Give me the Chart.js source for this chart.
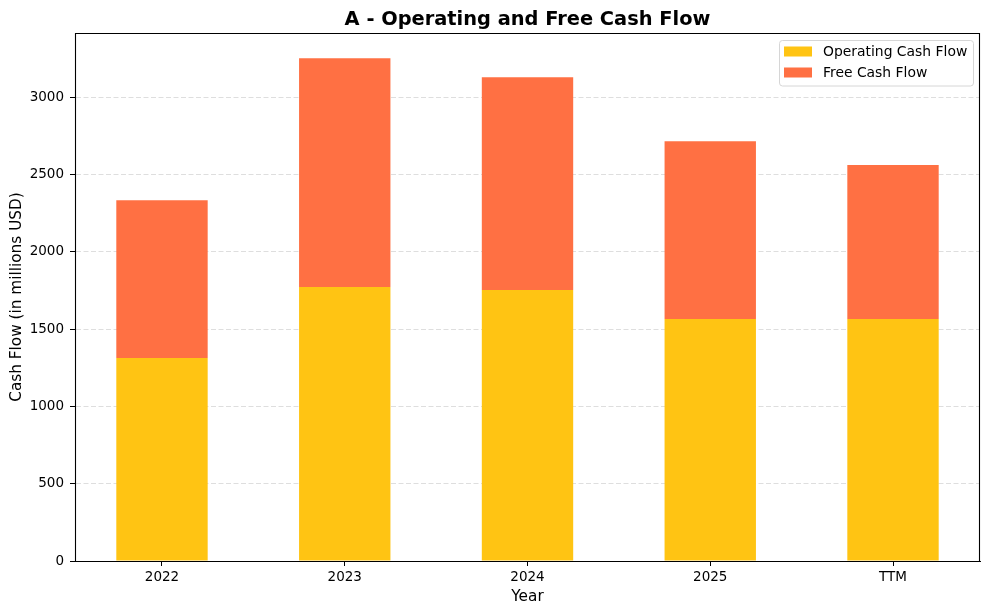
<!DOCTYPE html>
<html>
<head>
<meta charset="utf-8">
<script src="https://cdn.jsdelivr.net/npm/chart.js@4.4.1/dist/chart.umd.min.js"></script>
<style>
  html, body { margin: 0; padding: 0; background: #fff; }
  #wrap { width: 989px; height: 615px; }
</style>
</head>
<body>
<div id="wrap"><canvas id="chart_canvas" width="989" height="615"></canvas></div>
<script>
// ============================================================
// Data
// ============================================================
var categories = ["2022", "2023", "2024", "2025", "TTM"];
var operatingCashFlow = [1314, 1773, 1753, 1566, 1566];
var freeCashFlow = [1021, 1481, 1378, 1151, 996];
var yTicks = [0, 500, 1000, 1500, 2000, 2500, 3000];

var FONT = "'DejaVu Sans', sans-serif";

// ============================================================
// Frame round the plot, title over the plot, legend in the corner
// ============================================================
var framePlugin = {
	id: "frame",
	afterDraw: function (chart) {
		var ctx = chart.ctx, a = chart.chartArea;
		var l = Math.round(a.left) + 0.5, r = Math.round(a.right) - 0.5;
		var t = Math.round(a.top) + 0.5, b = Math.round(a.bottom) + 0.5;
		ctx.save();
		ctx.strokeStyle = "#000";
		ctx.lineWidth = 1.1;
		ctx.beginPath();
		ctx.moveTo(l, t); ctx.lineTo(r, t); ctx.lineTo(r, b); ctx.lineTo(l, b); ctx.closePath();
		ctx.stroke();
		// title
		ctx.fillStyle = "#000";
		ctx.font = "bold 19.4px " + FONT;
		ctx.textAlign = "center";
		ctx.textBaseline = "alphabetic";
		ctx.fillText("A - Operating and Free Cash Flow", (a.left + a.right) / 2, 24.7);
		ctx.restore();
	}
};

var legendPlugin = {
	id: "cornerLegend",
	afterDraw: function (chart) {
		var ctx = chart.ctx, a = chart.chartArea;
		var sets = chart.data.datasets;
		ctx.save();
		ctx.font = "13.9px " + FONT;
		var textW = 0;
		sets.forEach(function (d) { textW = Math.max(textW, ctx.measureText(d.label).width); });
		var boxW = 4.5 + 28 + 11 + textW + 6;
		var boxH = 45.5;
		var x = a.right - 7 - boxW, y = a.top + 7.5;
		ctx.beginPath();
		ctx.roundRect(Math.round(x) + 0.5, y, Math.round(boxW), boxH, 3);
		ctx.fillStyle = "rgba(255,255,255,0.8)";
		ctx.fill();
		ctx.strokeStyle = "#d6d6d6";
		ctx.lineWidth = 1;
		ctx.stroke();
		sets.forEach(function (d, i) {
			var rowY = y + 6 + i * 21;
			ctx.fillStyle = d.backgroundColor;
			ctx.fillRect(Math.round(x) + 5, rowY, 28, 10);
			ctx.fillStyle = "#000";
			ctx.textAlign = "left";
			ctx.textBaseline = "middle";
			ctx.fillText(d.label, Math.round(x) + 44, rowY + 5.5);
		});
		ctx.restore();
	}
};

var chartData = {
	datasets: [{
		label: "Operating Cash Flow",
		backgroundColor: "#FFC413",
		data: categories.map(function (c, i) { return { x: i, y: operatingCashFlow[i] }; })
	}, {
		label: "Free Cash Flow",
		backgroundColor: "#FF7043",
		data: categories.map(function (c, i) { return { x: i, y: freeCashFlow[i] }; })
	}]
};

new Chart(document.getElementById("chart_canvas"), {
	type: "bar",
	data: chartData,
	plugins: [framePlugin, legendPlugin],
	options: {
		responsive: false,
		animation: false,
		devicePixelRatio: 1,
		layout: { padding: { left: 0, right: 9, top: 33, bottom: 0 } },
		datasets: { bar: { barPercentage: 0.5, categoryPercentage: 1, borderWidth: 0 } },
		plugins: {
			legend: { display: false },
			title: { display: false },
			tooltip: { enabled: false }
		},
		scales: {
			x: {
				type: "linear",
				stacked: true,
				offset: false,
				min: -0.476,
				max: 4.476,
				afterBuildTicks: function (axis) {
					axis.ticks = categories.map(function (c, i) { return { value: i }; });
				},
				afterFit: function (axis) { axis.height = 54; },
				grid: { offset: false, drawOnChartArea: false, tickLength: 5, tickColor: "#000", tickWidth: 1 },
				border: { color: "#000", width: 1 },
				ticks: {
					color: "#000",
					padding: 3,
					maxRotation: 0,
					autoSkip: false,
					font: { family: FONT, size: 13.5 },
					callback: function (v) { return categories[v]; }
				},
				title: {
					display: true,
					text: "Year",
					color: "#000",
					font: { family: FONT, size: 15.3, lineHeight: 1.2 },
					padding: { top: 0, bottom: 9 }
				}
			},
			y: {
				stacked: true,
				min: 0,
				max: 3417,
				afterBuildTicks: function (axis) {
					axis.ticks = yTicks.map(function (v) { return { value: v }; });
				},
				afterFit: function (axis) { axis.width = 75; },
				grid: {
					color: function (c) { return c.tick && c.tick.value === 0 ? "rgba(0,0,0,0)" : "#dedede"; },
					lineWidth: 1,
					tickLength: 5,
					tickColor: "#000",
					tickWidth: 1,
					tickBorderDash: []
				},
				border: { color: "#000", width: 1, dash: [5, 2.5] },
				ticks: {
					color: "#000",
					padding: 6,
					font: { family: FONT, size: 13.5 },
					callback: function (v) { return String(v); }
				},
				title: {
					display: true,
					text: "Cash Flow (in millions USD)",
					color: "#000",
					font: { family: FONT, size: 15.3, lineHeight: 1.2 },
					padding: { top: 8, bottom: 0 }
				}
			}
		}
	}
});
</script>
</body>
</html>
